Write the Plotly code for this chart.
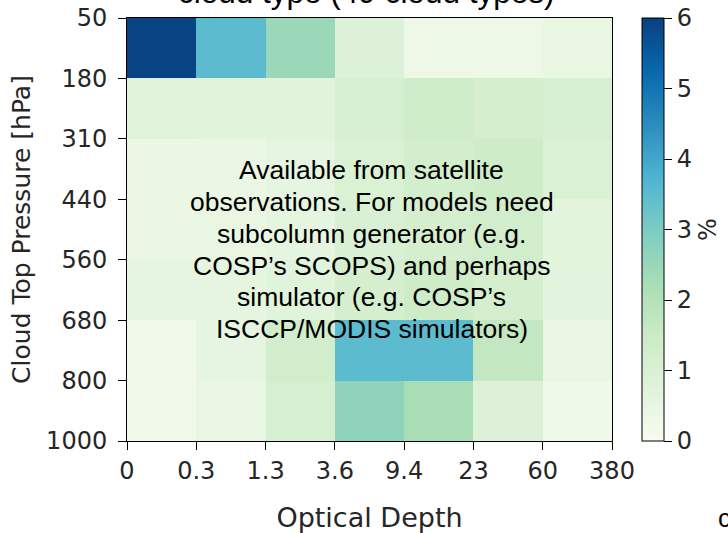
import numpy as np
import plotly.graph_objects as go

# ISCCP-style joint histogram: optical depth bins x cloud-top-pressure bins
tau_edges = ["0", "0.3", "1.3", "3.6", "9.4", "23", "60", "380"]
ctp_edges = ["50", "180", "310", "440", "560", "680", "800", "1000"]

# cloud fraction (%) per bin, rows from 50 hPa (top) down to 1000 hPa
row_50_180 = [5.95, 3.52, 2.47, 0.90, 0.33, 0.33, 0.49]
row_180_310 = [0.79, 0.75, 0.75, 1.12, 1.35, 1.20, 1.10]
row_310_440 = [0.39, 0.42, 0.55, 0.98, 1.25, 1.40, 0.98]
row_440_560 = [0.45, 0.50, 0.60, 1.00, 1.20, 1.30, 0.70]
row_560_680 = [0.55, 0.60, 0.75, 1.20, 1.40, 1.20, 0.65]
row_680_800 = [0.23, 0.55, 1.30, 3.52, 3.52, 1.71, 0.49]
row_800_1000 = [0.20, 0.46, 1.12, 2.67, 2.23, 0.90, 0.26]

z = [row_50_180, row_180_310, row_310_440, row_440_560,
     row_560_680, row_680_800, row_800_1000]

x_centers = np.arange(len(tau_edges) - 1) + 0.5
y_centers = np.arange(len(ctp_edges) - 1) + 0.5

note_lines = [
    "Available from satellite",
    "observations. For models need",
    "subcolumn generator (e.g.",
    "COSP\u2019s SCOPS) and perhaps",
    "simulator (e.g. COSP\u2019s",
    "ISCCP/MODIS simulators)",
]

tick_font = dict(family="DejaVu Sans", size=24, color="#262626")

fig = go.Figure(go.Heatmap(
    x=x_centers, y=y_centers, z=z,
    zmin=0, zmax=6, colorscale="GnBu",
    colorbar=dict(
        x=1.062, xanchor="left", xpad=0,
        y=0, yanchor="bottom", ypad=0,
        len=1, lenmode="fraction",
        thickness=22, thicknessmode="pixels",
        outlinecolor="black", outlinewidth=1,
        tickvals=[0, 1, 2, 3, 4, 5, 6],
        ticks="outside", ticklen=8, tickcolor="black",
        tickfont=tick_font,
        title=dict(text="%", side="right",
                   font=dict(family="DejaVu Sans", size=24, color="#262626")),
    ),
    showscale=True,
))

fig.update_xaxes(
    range=[0, 7], tickvals=list(range(len(tau_edges))), ticktext=tau_edges,
    ticks="outside", ticklen=8, tickcolor="black", tickfont=tick_font,
    showline=True, linecolor="black", linewidth=1, mirror=True,
    showgrid=False, zeroline=False,
    title=dict(text="Optical Depth", standoff=24,
               font=dict(family="DejaVu Sans", size=27, color="#262626")),
)
fig.update_yaxes(
    range=[7, 0], tickvals=list(range(len(ctp_edges))), ticktext=ctp_edges,
    ticks="outside", ticklen=8, tickcolor="black", tickfont=tick_font,
    ticklabelstandoff=6,
    showline=True, linecolor="black", linewidth=1, mirror=True,
    showgrid=False, zeroline=False,
    title=dict(text="Cloud Top Pressure [hPa]", standoff=8,
               font=dict(family="DejaVu Sans", size=25, color="#262626")),
)

# centred note, one annotation per line for tighter line spacing
line_step = 31.7
n = len(note_lines)
for i, line in enumerate(note_lines):
    fig.add_annotation(x=3.536, y=3.835, xref="x", yref="y", text=line,
                       showarrow=False, yshift=((n - 1) / 2 - i) * line_step,
                       font=dict(family="Liberation Sans", size=26.5,
                                 color="black"))

fig.add_annotation(x=0.493, y=1.0, xref="paper", yref="paper",
                   yshift=6, text="cloud type (49 cloud types)",
                   showarrow=False, yanchor="bottom",
                   font=dict(family="Liberation Sans", size=31.5, color="black"))
fig.add_annotation(x=1.214, y=-0.222, xref="paper", yref="paper",
                   text="c", showarrow=False, xanchor="left", yanchor="bottom",
                   font=dict(family="Liberation Sans", size=26, color="black"))

fig.update_layout(
    width=728, height=533,
    margin=dict(l=127, r=116, t=17.5, b=92, autoexpand=False),
    paper_bgcolor="white", plot_bgcolor="white",
    showlegend=False,
)

fig.write_html("out.html")
